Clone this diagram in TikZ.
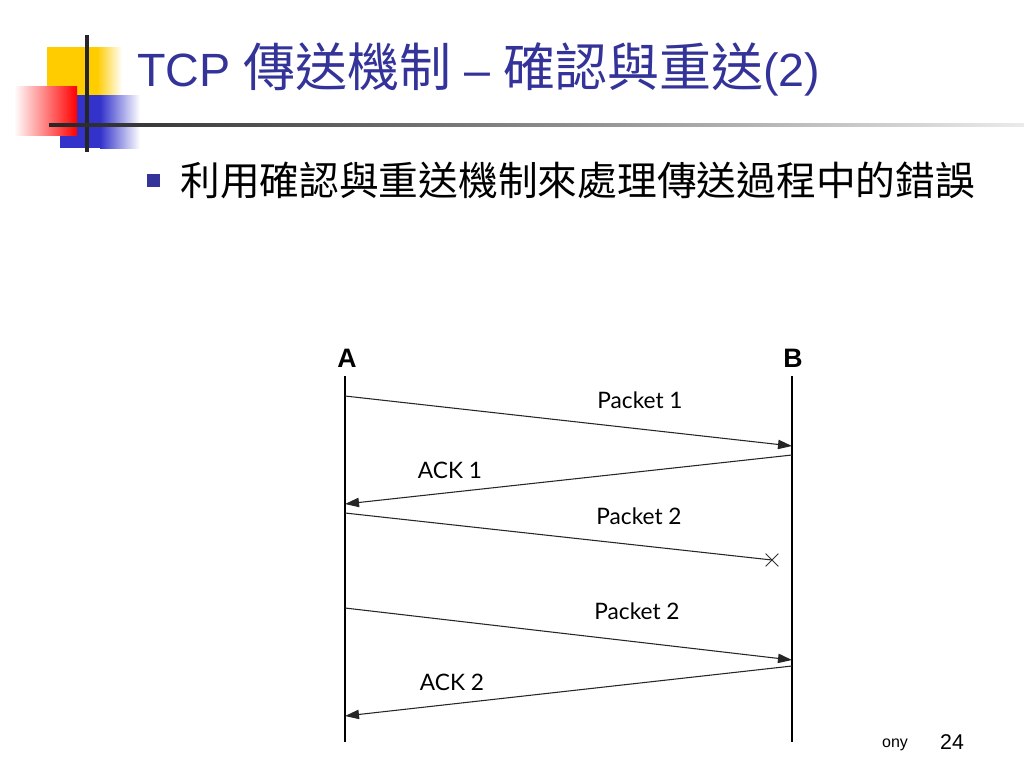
\documentclass[tikz,border=0pt]{standalone}
\usepackage{fontspec}
\setmainfont{Liberation Sans}
\newfontfamily\cjkfont{Noto Sans CJK TC}
\newfontfamily\msgfont{Lato}
\usetikzlibrary{arrows.meta,shapes.misc}
\definecolor{titleblue}{RGB}{51,51,153}
\definecolor{decoyellow}{RGB}{255,204,0}
\definecolor{decoblue}{RGB}{51,51,204}
\definecolor{decored}{RGB}{255,0,0}

\begin{document}
\begin{tikzpicture}[x=0.75pt,y=-0.75pt,
  msg/.style={draw=black!85,line width=0.8pt,-{Triangle[length=10.5pt,width=7pt]}},
  lifeline/.style={draw=black,line width=1.5pt},
  msglabel/.style={font=\msgfont\fontsize{17}{19}\selectfont,inner sep=0pt},
  host/.style={font=\bfseries\fontsize{20}{22}\selectfont,inner sep=0pt}]

\useasboundingbox (0,0) rectangle (1024,768);

\fill[decoyellow] (47,47) rectangle (97,95);
\shade[left color=decoyellow,right color=white] (97,47) rectangle (122,95);
\fill[decoblue] (60,95) rectangle (100,148);
\shade[left color=decoblue,right color=white] (100,95) rectangle (140,148);
\shade[left color=white,right color=decored] (14,86) rectangle (77,135);
\draw[line width=2.3pt,black!85] (87,35) -- (87,152);
\shade[left color=black!85,right color=black!8] (49,123.5) rectangle (1024,126.5);

\node[anchor=base west,text=titleblue,inner sep=0pt,font=\fontsize{35}{38}\selectfont] (title) at (137,86)
  {TCP {\cjkfont\fontsize{39}{42}\selectfont 傳送機制} – {\cjkfont\fontsize{39}{42}\selectfont 確認與重送}(2)};
\node[fill=titleblue,minimum size=9.75pt,inner sep=0pt] (bullet) at (153.5,180) {};
\node[anchor=west,inner sep=0pt,font=\cjkfont\fontsize{29.8}{32}\selectfont] (point) at (180,180)
  {利用確認與重送機制來處理傳送過程中的錯誤};

\node[host] (A) at (347,358) {A};
\node[host] (B) at (793,358) {B};

\coordinate (atop) at (345,376);
\coordinate (abot) at (345,742);
\coordinate (btop) at (792,376);
\coordinate (bbot) at (792,742);
\path (atop) edge[lifeline] (abot) (btop) edge[lifeline] (bbot);

\coordinate (a1) at (345,396);
\coordinate (b1) at (792,446);
\coordinate (b2) at (792,455);
\coordinate (a2) at (345,504);
\coordinate (a3) at (345,513);
\node[draw=black!80,cross out,minimum size=9pt,inner sep=0pt,line width=0.6pt] (lost) at (772,560) {};
\coordinate (a4) at (345,608);
\coordinate (b4) at (792,660);
\coordinate (b5) at (792,666);
\coordinate (a5) at (345,716);

\path (a1) edge[msg] (b1) (b2) edge[msg] (a2) (a4) edge[msg] (b4) (b5) edge[msg] (a5);
\draw[draw=black!85,line width=0.8pt] (a3) -- (lost.center);

\node[msglabel] (p1) at (640,400) {Packet 1};
\node[msglabel] (k1) at (450,470) {ACK 1};
\node[msglabel] (p2) at (639,516) {Packet 2};
\node[msglabel] (p3) at (637,611) {Packet 2};
\node[msglabel] (k2) at (452,682) {ACK 2};

\node[font=\fontsize{12}{14}\selectfont,inner sep=0pt] (footer) at (895,745) {ony};
\node[font=\fontsize{16}{18}\selectfont,inner sep=0pt] (page) at (952,742) {24};

\end{tikzpicture}
\end{document}
